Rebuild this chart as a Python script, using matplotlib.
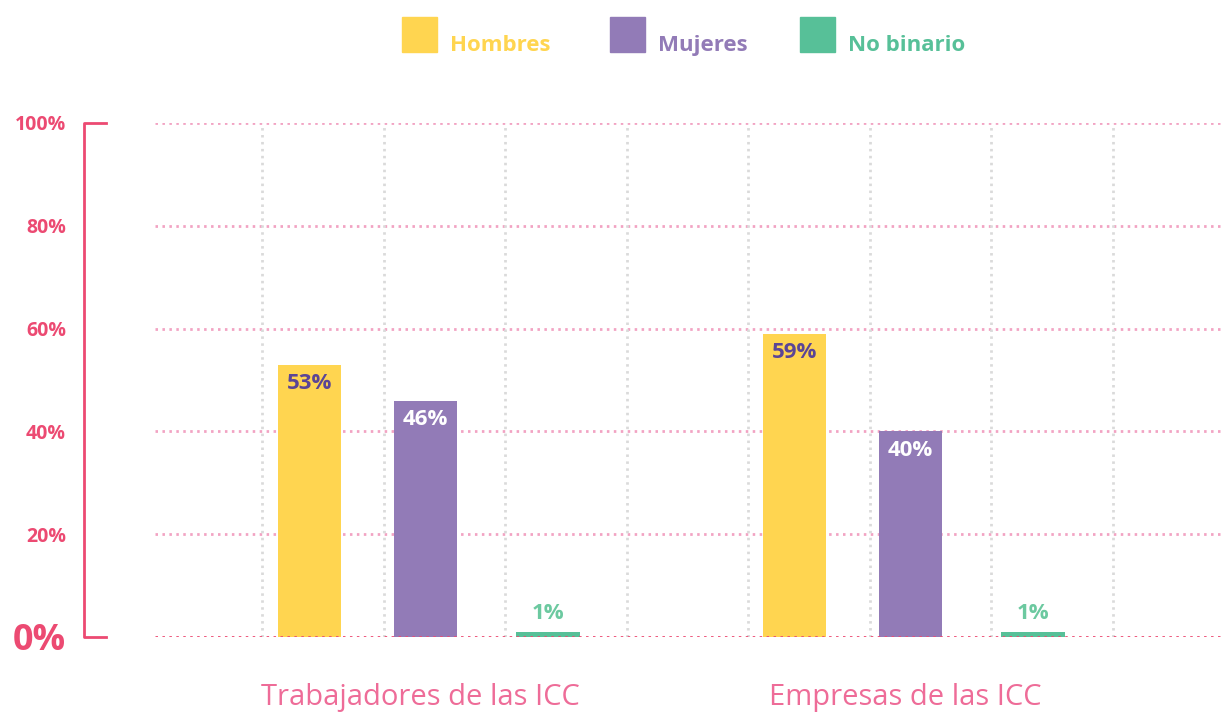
import matplotlib.pyplot as plt
import numpy as np
from matplotlib.patches import Rectangle

# datos
grupos = ["Trabajadores de las ICC", "Empresas de las ICC"]
series = ["Hombres", "Mujeres", "No binario"]
hombres = [53, 59]
mujeres = [46, 40]
no_binario = [1, 1]
yticks = [0, 20, 40, 60, 80, 100]
ytick_labels = ["0%", "20%", "40%", "60%", "80%", "100%"]

colores = ["#FFD550", "#927BB7", "#57C098"]
col_etq = ["#5B4596", "#FFFFFF", "#6CC9A0"]
rosa = "#EC4A72"
fuente = "Open Sans"

fig = plt.figure(figsize=(12.24, 7.14), dpi=100)
ax = fig.add_axes([155/1224, 77/714, 1067/1224, 514/714])

x = np.arange(len(grupos))
offsets = [-0.240, 0.0, 0.2526]
ancho = 0.13
valores = [hombres, mujeres, no_binario]

# grid punteado
for yv in yticks[1:]:
    ax.axhline(yv, color="#F2A3C3", lw=2, ls=(0, (0.9, 1.6)), zorder=1)
for xv in np.arange(-0.3371, 1.55, 0.25066):
    ax.axvline(xv, color="#DADADA", lw=2, ls=(0, (0.9, 1.6)), zorder=1)

for i, vals in enumerate(valores):
    pos = x + offsets[i]
    ax.bar(pos, vals, width=ancho, color=colores[i], zorder=2)
    for p, v in zip(pos, vals):
        yy = v - 3.7 if v > 5 else v + 3.5
        ax.text(p, yy, f"{v}%", ha="center", va="center", color=col_etq[i],
                fontsize=16, fontweight="bold", family=fuente, zorder=3)

ax.axhline(0, color=rosa, lw=2, ls=(0, (0.9, 1.6)), zorder=4)

ax.set_xlim(-0.5577, 1.6423)
ax.set_ylim(0, 100)
for s in ax.spines.values():
    s.set_visible(False)

ax.set_xticks(x - 0.01, grupos)
ax.tick_params(axis="x", length=0, pad=33, labelsize=21, labelcolor="#EE6C98")
for t in ax.get_xticklabels():
    t.set_family(fuente)

ax.set_yticks(yticks, ytick_labels)
ax.tick_params(axis="y", length=0, pad=64, labelcolor=rosa)
for t in ax.get_yticklabels():
    t.set_family(fuente)
    t.set_fontweight("bold")
    t.set_fontsize(14)
ax.get_yticklabels()[0].set_fontsize(26)

# corchete del eje
tr = ax.get_yaxis_transform()
ax.plot([-0.0459, -0.0665, -0.0665, -0.0459], [100, 100, 0, 0], color=rosa, lw=2,
        transform=tr, clip_on=False)

# leyenda
ley_x = [402, 610, 800]
for xp, c, s in zip(ley_x, colores, series):
    fig.add_artist(Rectangle((xp/1224, 1 - 52/714), 35/1224, 35/714, color=c,
                             transform=fig.transFigure))
    fig.text((xp + 48)/1224, 1 - 51/714, s, color=c, fontsize=16, fontweight="bold",
             family=fuente, ha="left", va="baseline")

fig.savefig("out.png", dpi=100)
